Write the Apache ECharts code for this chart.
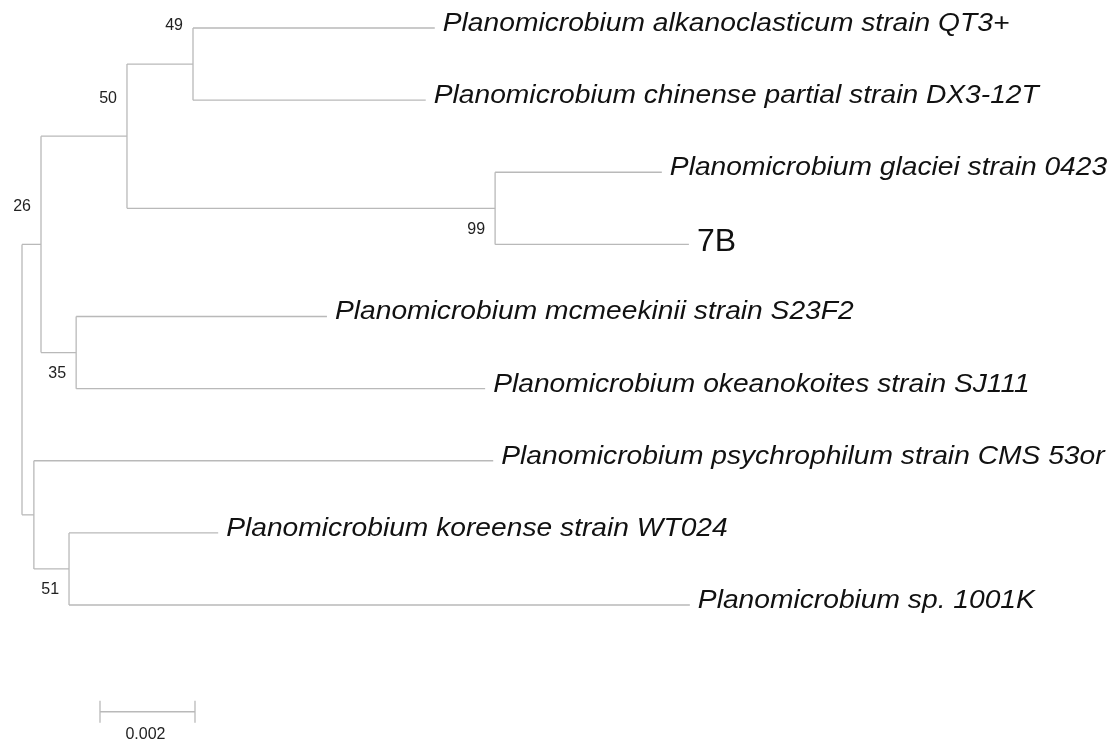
<!DOCTYPE html>
<html><head><meta charset="utf-8">
<script src="https://cdn.jsdelivr.net/npm/echarts@6/dist/echarts.min.js"></script>
<style>html,body{margin:0;padding:0;background:#fff}#c{width:1118px;height:745px}</style>
</head><body><div id="c"></div>
<script>
// ---------- DATA ----------
// Tree topology: node ids, their parents (children listed in drawing order), branch lengths (substitutions/site)
const nodeIds       = ['root','n26','n50','n49','alk','chi','n99','gla','b7B','n35','mcm','oke','nB','psy','n51','kor','sp'];
const nodeParents   = [null,  'root','n26','n50','n49','n49','n50','n99','n99','n26','n35','n35','root','nB','nB','n51','n51'];
const branchLengths = [0,     0.0004,0.00181,0.00139,0.00509,0.0049,0.00775,0.00351,0.00408,0.00074,0.00528,0.00861,0.00025,0.00967,0.00074,0.00314,0.01307];
// Leaf labels
const leafIds    = ['alk','chi','gla','b7B','mcm','oke','psy','kor','sp'];
const leafLabels = [
  'Planomicrobium alkanoclasticum strain QT3+',
  'Planomicrobium chinense partial strain DX3-12T',
  'Planomicrobium glaciei strain 0423',
  '7B',
  'Planomicrobium mcmeekinii strain S23F2',
  'Planomicrobium okeanokoites strain SJ111',
  'Planomicrobium psychrophilum strain CMS 53or',
  'Planomicrobium koreense strain WT024',
  'Planomicrobium sp. 1001K'
];
const uprightLeaves = ['b7B'];
// Bootstrap support values
const bootstrapNodes  = ['n49','n50','n26','n99','n35','n51'];
const bootstrapValues = [49, 50, 26, 99, 35, 51];
// Scale bar
const scaleBarLength = 0.002;
const scaleBarLabel  = '0.002';

// ---------- LAYOUT / STYLE ----------
const bootstrapDy = {n49:-38, n50:-38, n26:-38, n99:21, n35:21, n51:21};
const scaleBarPos = {x:0.001642, row:9.48};
const lineColor = '#b9b9b9';
const FONT = '"Liberation Sans", Arial, sans-serif';

// ---------- BUILD TREE GEOMETRY ----------
const idx = {}; nodeIds.forEach((id,i)=>idx[id]=i);
const children = {}; nodeIds.forEach(id=>children[id]=[]);
nodeParents.forEach((p,i)=>{ if(p) children[p].push(nodeIds[i]); });
const X = {}, Y = {};
let leafCounter = 0;
function walk(id, depth){
  X[id] = depth;
  const ch = children[id];
  if(!ch.length){ Y[id] = leafCounter++; return; }
  ch.forEach(c=>walk(c, depth + branchLengths[idx[c]]));
  Y[id] = (Y[ch[0]] + Y[ch[ch.length-1]]) / 2;
}
walk('root', 0);

const segments = [];
nodeIds.forEach((id,i)=>{
  const p = nodeParents[i];
  if(p) segments.push([X[p], Y[id], X[id], Y[id]]);
  const ch = children[id];
  if(ch.length) segments.push([X[id], Y[ch[0]], X[id], Y[ch[ch.length-1]]]);
});
const leafData = leafIds.map((id,i)=>[X[id], Y[id], leafLabels[i], uprightLeaves.includes(id)?1:0]);
const bootData = bootstrapNodes.map((id,i)=>[X[id], Y[id], bootstrapValues[i], bootstrapDy[id]]);

const chart = echarts.init(document.getElementById('c'), null, {renderer:'canvas'});
chart.setOption({
  animation:false,
  backgroundColor:'#fff',
  grid:{left:22, top:28, width:950, height:685.2},
  xAxis:{type:'value', min:0, max:0.02, show:false},
  yAxis:{type:'value', min:0, max:9.5, inverse:true, show:false},
  series:[
    {
      type:'custom', name:'branches', data:segments, clip:false,
      renderItem:function(params, api){
        const a = api.coord([api.value(0), api.value(1)]);
        const b = api.coord([api.value(2), api.value(3)]);
        return {type:'line', shape:{x1:a[0],y1:a[1],x2:b[0],y2:b[1]}, style:{stroke:lineColor, lineWidth:1.3}};
      }
    },
    {
      type:'custom', name:'leaves', data:leafData, clip:false,
      renderItem:function(params, api){
        const d = leafData[params.dataIndex];
        const p = api.coord([d[0], d[1]]);
        const up = d[3] === 1;
        return {type:'text', x:p[0] + 8, y:p[1] + (up ? -2 : -4), scaleX: up ? 1 : 1.128,
          style:{text:d[2], fill:'#111', font:(up ? 'normal 32px ' : 'italic 25px ') + FONT,
                 align:'left', verticalAlign:'middle'}};
      }
    },
    {
      type:'custom', name:'bootstrap', data:bootData, clip:false,
      renderItem:function(params, api){
        const d = bootData[params.dataIndex];
        const p = api.coord([d[0], d[1]]);
        return {type:'text', x:p[0] - 10, y:p[1] + d[3],
          style:{text:String(d[2]), fill:'#222', font:'16px ' + FONT, align:'right', verticalAlign:'middle'}};
      }
    },
    {
      type:'custom', name:'scale', data:[[scaleBarPos.x, scaleBarPos.row, scaleBarLength]], clip:false,
      renderItem:function(params, api){
        const a = api.coord([api.value(0), api.value(1)]);
        const b = api.coord([api.value(0) + api.value(2), api.value(1)]);
        return {type:'group', children:[
          {type:'line', shape:{x1:a[0],y1:a[1],x2:b[0],y2:b[1]}, style:{stroke:lineColor, lineWidth:1.5}},
          {type:'line', shape:{x1:a[0],y1:a[1]-11,x2:a[0],y2:a[1]+11}, style:{stroke:lineColor, lineWidth:1.3}},
          {type:'line', shape:{x1:b[0],y1:b[1]-11,x2:b[0],y2:b[1]+11}, style:{stroke:lineColor, lineWidth:1.3}},
          {type:'text', x:(a[0]+b[0])/2 - 2, y:a[1] + 23,
           style:{text:scaleBarLabel, fill:'#222', font:'16px ' + FONT, align:'center', verticalAlign:'middle'}}
        ]};
      }
    }
  ]
});
</script></body></html>
